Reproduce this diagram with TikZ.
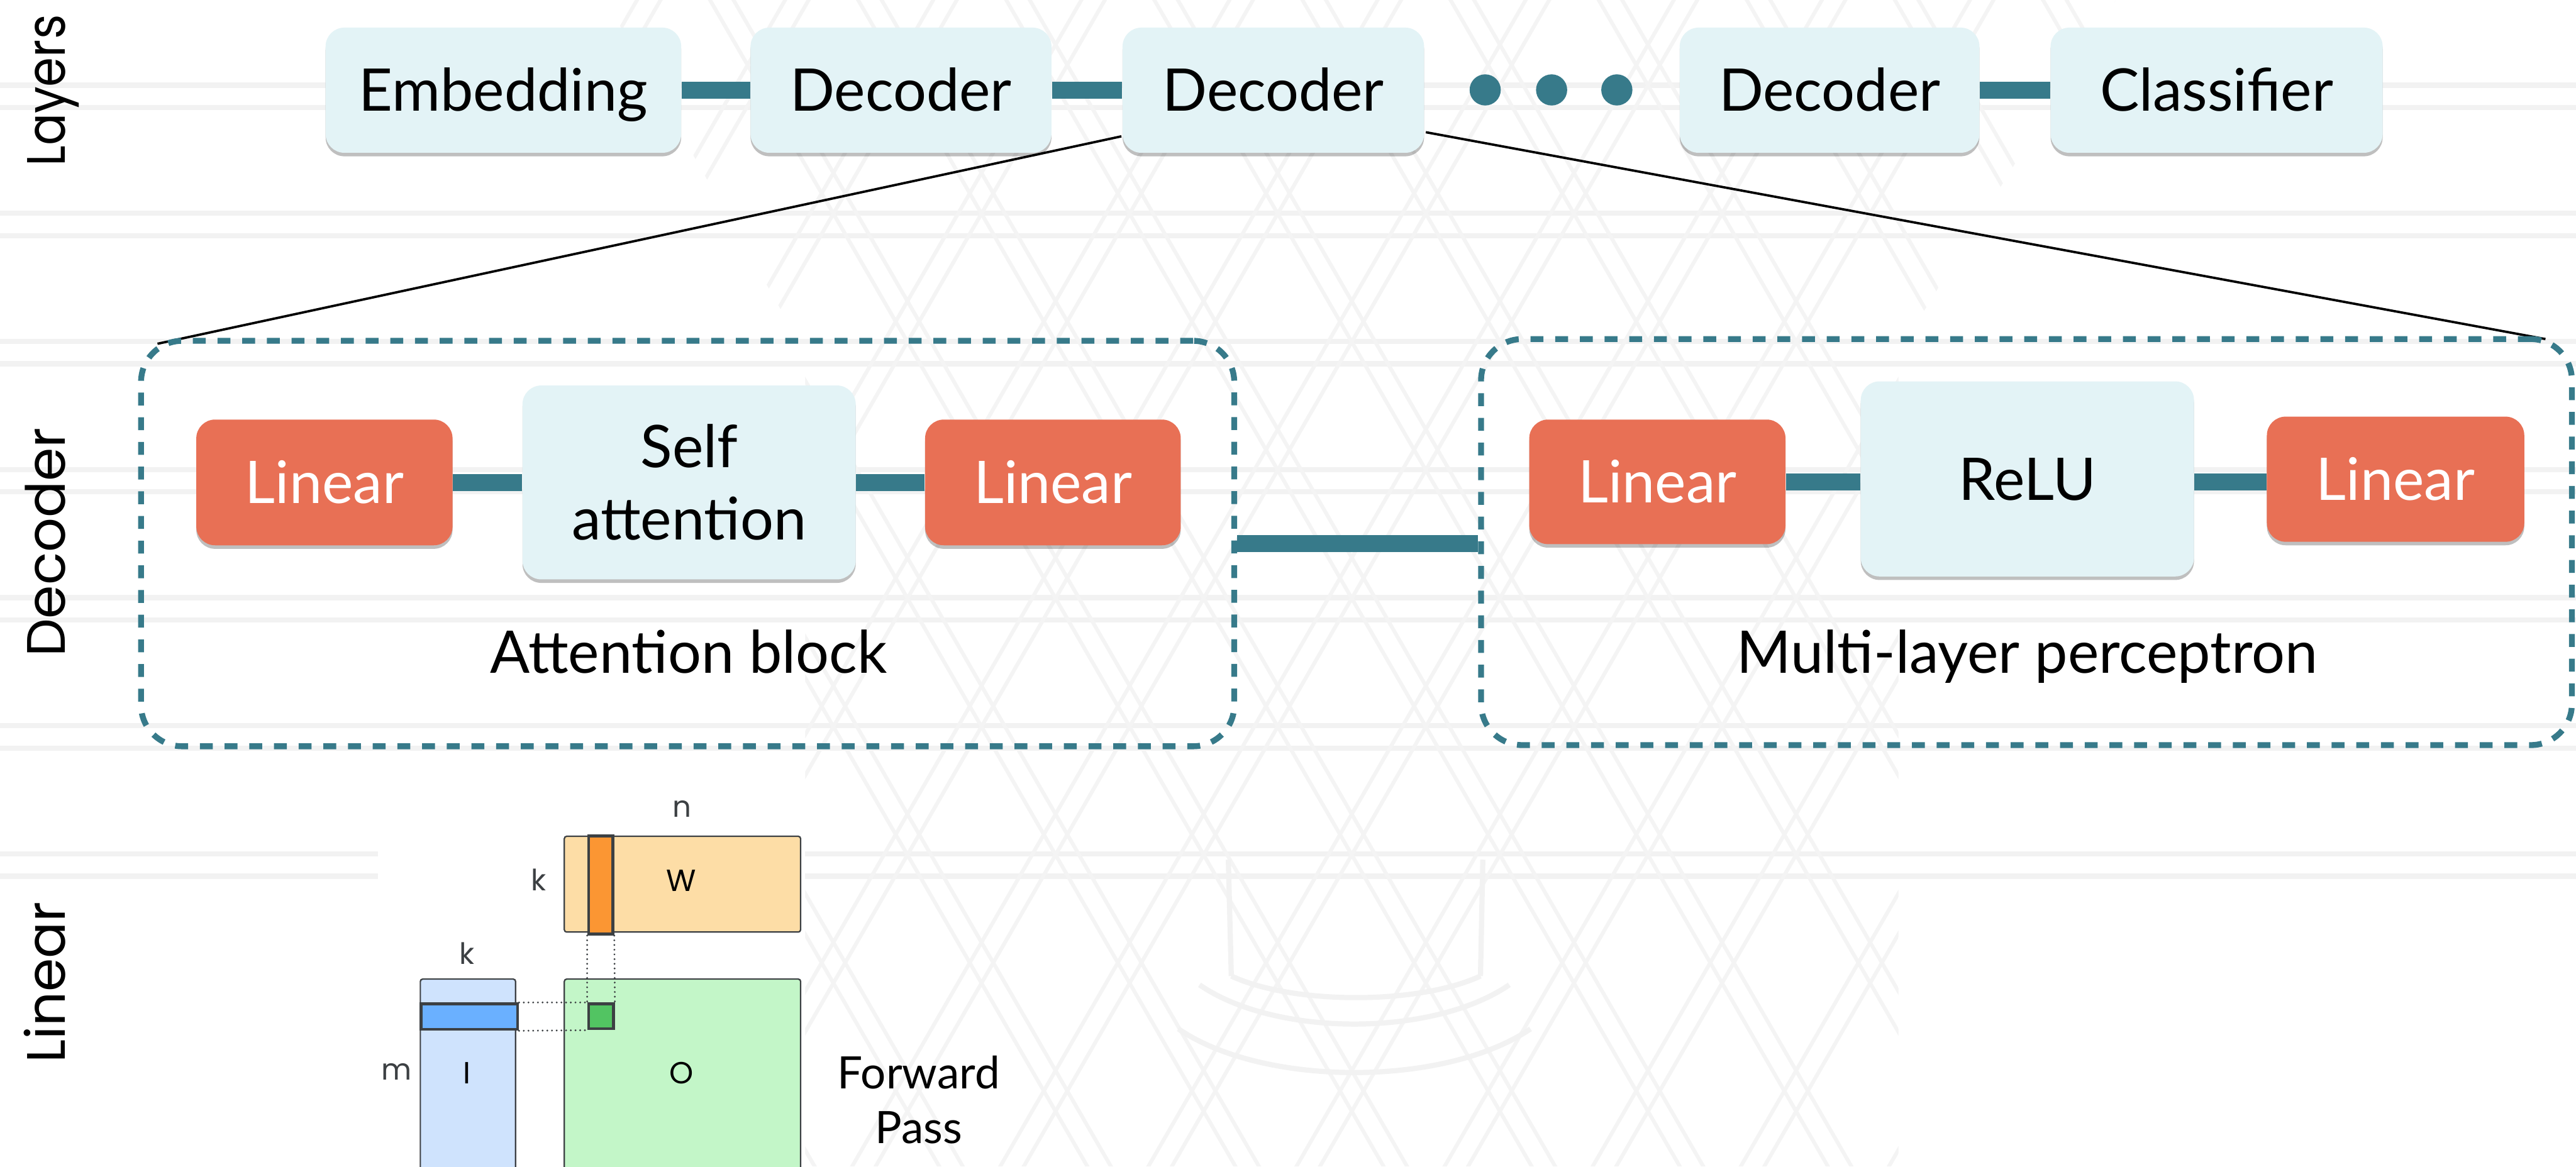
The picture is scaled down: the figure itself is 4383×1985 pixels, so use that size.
\documentclass[tikz,border=0pt]{standalone}
\usepackage{fontspec}
\setmainfont{Lato}
\newfontfamily\sidefont{Poppins}
\newfontfamily\matfont{Poppins}
\usetikzlibrary{shadows}
\definecolor{tealc}{HTML}{377A8A}
\definecolor{boxbg}{HTML}{E3F3F6}
\definecolor{linred}{HTML}{E87055}
\definecolor{wfill}{HTML}{FDDDA6}
\definecolor{wstrip}{HTML}{FB9633}
\definecolor{ifill}{HTML}{CFE3FD}
\definecolor{istrip}{HTML}{6AB0FF}
\definecolor{ofill}{HTML}{C3F6C8}
\definecolor{ocellc}{HTML}{52C462}
\definecolor{darkg}{HTML}{3C4043}
\definecolor{wmark}{HTML}{F2F2F2}
\definecolor{wmarkd}{HTML}{F4F4F4}
\begin{document}
\begin{tikzpicture}[x=0.25pt,y=-0.25pt,
  box/.style={rectangle, rounded corners=8pt, fill=boxbg, inner sep=0pt,
    font=\fontsize{25pt}{30pt}\selectfont, text height=17.9pt, text depth=0pt,
    drop shadow={shadow xshift=0pt, shadow yshift=-1.5pt, opacity=0.25, fill=black}},
  redbox/.style={box, fill=linred, text=white},
  link/.style={draw=tealc, line width=7.25pt},
  groupbox/.style={rectangle, draw=tealc, line width=2.5pt, dash pattern=on 5.5pt off 5pt, rounded corners=17.5pt, inner sep=0pt},
  zoomline/.style={draw=black, line width=1pt},
  sidelabel/.style={rotate=90, anchor=base, font=\sidefont\fontsize{23pt}{27pt}\selectfont},
  caption/.style={anchor=base, font=\fontsize{25pt}{30pt}\selectfont},
  wm/.style={draw=wmark, line width=2.2pt},
  wmd/.style={draw=wmarkd, line width=1.6pt},
  mat/.style={rectangle, draw=darkg, line width=0.6pt, rounded corners=1pt, inner sep=0pt, anchor=north west},
  sel/.style={rectangle, draw=darkg, line width=1.3pt, inner sep=0pt, anchor=north west},
  guide/.style={draw=darkg, line width=0.85pt, dash pattern=on 0pt off 2pt, line cap=round},
  dimlabel/.style={font=\matfont\fontsize{12.5pt}{15pt}\selectfont, text=darkg, inner sep=0pt},
  matlabel/.style={font=\matfont\fontsize{13pt}{15pt}\selectfont, text=black, inner sep=0pt},
  dotnode/.style={circle, fill=tealc, minimum size=13.25pt, inner sep=0pt}
]
\useasboundingbox[fill=white] (0,0) rectangle (4383,1985);

% ---------- faint watermark ----------
\foreach \yy in {145,363,581,799,1017,1235,1453} {
  \draw[wm] (0,\yy) -- (4383,\yy);
  \draw[wm] (0,\yy+38) -- (4383,\yy+38);
}
\begin{scope}
  \clip (1030,0) -- (3600,0) -- (3230,600) -- (3230,1985) -- (1370,1985) -- (1370,600) -- cycle;
  \foreach \j in {-9,...,9} {
    \pgfmathsetmacro\xa{2300+252*\j-260}
    \pgfmathsetmacro\xb{2300+252*\j+1244}
    \pgfmathsetmacro\xc{2300+252*\j+260}
    \pgfmathsetmacro\xd{2300+252*\j-1244}
    \draw[wmd] (\xa,-305) -- (\xb,2300);
    \draw[wmd] (\xa+40,-305) -- (\xb+40,2300);
    \draw[wmd] (\xc,-305) -- (\xd,2300);
    \draw[wmd] (\xc-40,-305) -- (\xd-40,2300);
  }
  \draw[wm] (2005,1751) .. controls (2150,1850) and (2458,1850) .. (2604,1751);
  \draw[wm] (2041,1676) .. controls (2170,1765) and (2438,1765) .. (2568,1676);
  \draw[wm] (2095,1661) .. controls (2200,1710) and (2414,1710) .. (2519,1661);
  \draw[wm] (2090,1463) -- (2095,1661);
  \draw[wm] (2523,1463) -- (2519,1661);
\end{scope}

% ---------- side labels ----------
\node[sidelabel] (sideLayers) at (111,154) {\scalebox{0.88}[1]{Layers}};
\node[sidelabel] (sideDecoder) at (111,923) {Decoder};
\node[sidelabel] (sideLinear) at (111,1672) {Linear};

% ---------- zoom lines ----------
\coordinate (zl1) at (1908,232);
\coordinate (zl2) at (268,585);
\coordinate (zr1) at (2426,225);
\coordinate (zr2) at (4331,577);
\draw[zoomline] (zl1) -- (zl2);
\draw[zoomline] (zr1) -- (zr2);

% ---------- top row ----------
\node[box, minimum width=151.25pt, minimum height=53.25pt] (emb) at (856.5,153.5) {Embedding};
\node[box, minimum width=128pt, minimum height=53.25pt] (dec1) at (1533,153.5) {Decoder};
\node[box, minimum width=128.25pt, minimum height=53.25pt] (dec2) at (2166.5,153.5) {Decoder};
\node[box, minimum width=127.5pt, minimum height=53.25pt] (dec3) at (3113,153.5) {Decoder};
\node[box, minimum width=141.25pt, minimum height=53.25pt] (cls) at (3771.5,153.5) {Classifier};
\node[dotnode] (dotA) at (2527,153) {};
\node[dotnode] (dotB) at (2640,153) {};
\node[dotnode] (dotC) at (2751,153) {};
\draw[link] (emb) -- (dec1);
\draw[link] (dec1) -- (dec2);
\draw[link] (dec3) -- (cls);

% ---------- decoder detail ----------
\node[groupbox, minimum width=465pt, minimum height=172.5pt] (attn) at (1170,925) {};
\node[groupbox, minimum width=464pt, minimum height=172.75pt] (mlp) at (3448,922.5) {};
\draw[link] (attn.east) -- (attn.east -| mlp.west);

\node[redbox, minimum width=109pt, minimum height=53.5pt] (lin1) at (552,821) {Linear};
\node[box, minimum width=141.75pt, minimum height=82.5pt, align=center, text height=, text depth=, font=\fontsize{25pt}{30.75pt}\selectfont] (self) at (1172.5,821) {Self\\attention};
\node[redbox, minimum width=108.75pt, minimum height=53.5pt] (lin2) at (1791.5,821) {Linear};
\draw[link] (lin1) -- (self);
\draw[link] (self) -- (lin2);

\node[redbox, minimum width=109pt, minimum height=53pt] (lin3) at (2820,820) {Linear};
\node[box, minimum width=141.75pt, minimum height=83pt] (relu) at (3449.5,815) {ReLU};
\node[redbox, minimum width=109.5pt, minimum height=53.25pt] (lin4) at (4076,815.5) {Linear};
\draw[link] (lin3.east) -- (lin3.east -| relu.west);
\draw[link] (relu.east |- lin3.east) -- (lin3.east -| lin4.west);

\node[caption] (attnCap) at (1172,1145) {Attention block};
\node[caption] (mlpCap) at (3449,1145) {Multi-layer perceptron};

% ---------- linear layer: matrices ----------
\fill[white] (643,1352) rectangle (1370,1990);
\node[mat, fill=wfill, minimum width=100.5pt, minimum height=40.75pt] (wmat) at (959,1422) {};
\node[sel, fill=wstrip, minimum width=10.25pt, minimum height=41.75pt] (wcol) at (999,1420) {};
\node[mat, fill=ifill, minimum width=40.5pt, minimum height=86.25pt] (imat) at (714,1665) {};
\node[mat, fill=ofill, minimum width=100.5pt, minimum height=86.25pt] (omat) at (959,1665) {};
\node[sel, fill=istrip, minimum width=41pt, minimum height=10.75pt] (irow) at (714,1706) {};
\node[sel, fill=ocellc, minimum width=10.5pt, minimum height=10.5pt] (ocell) at (999,1706) {};
\draw[guide] (wcol.south west) -- (ocell.north west);
\draw[guide] (wcol.south east) -- (ocell.north east);
\draw[guide] (irow.north east) -- (ocell.north west);
\draw[guide] (irow.south east) -- (ocell.south west);

\node[dimlabel] (nlbl) at (1160,1377) {n};
\node[dimlabel] (kw) at (917,1497) {k};
\node[matlabel] (wlbl) at (1159,1499) {W};
\node[dimlabel] (ki) at (795,1622) {k};
\node[dimlabel] (mlbl) at (675,1824) {m};
\node[matlabel] (ilbl) at (795,1826) {I};
\node[matlabel] (olbl) at (1160,1826) {O};
\node[align=center, font=\fontsize{19pt}{23.25pt}\selectfont] (fwd) at (1563,1872) {Forward\\Pass};
\end{tikzpicture}
\end{document}
